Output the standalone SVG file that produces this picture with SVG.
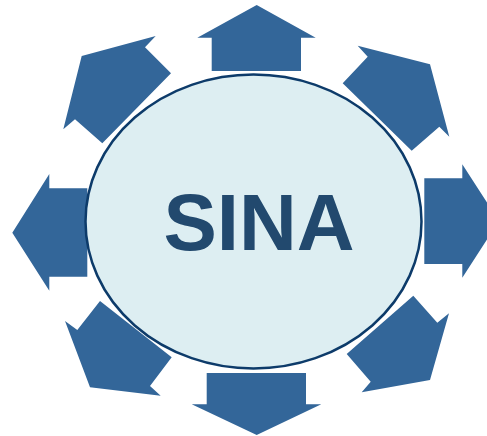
<svg xmlns="http://www.w3.org/2000/svg" width="487" height="436" viewBox="0 0 487 436">
<style>
.arr{fill:#336699;stroke:none}
.hub{fill:#DDEEF2;stroke:#0D3B6A;stroke-width:2.5}
.lbl{font-family:"Liberation Sans",Arial,sans-serif;font-weight:bold;font-size:80px;fill:#22496E;text-anchor:middle}
</style>
<rect width="487" height="436" fill="#ffffff"/>
<g id="connectors">
<polygon id="arrow-n" class="arr" points="256.7,5 315.7,37.7 301,37.7 301,71 211.7,71 211.7,37.7 197.3,37.7"/>
<polygon id="arrow-s" class="arr" points="256.7,435 321.3,404.3 306,404.3 306,373 206.7,373 206.7,404.3 191.7,404.3"/>
<polygon id="arrow-w" class="arr" points="12.3,232.7 49.3,174 49.3,188.3 87.3,188.3 87.3,276.7 49.3,276.7 49.3,290.7"/>
<polygon id="arrow-e" class="arr" points="499,221 462.3,164.3 462.3,178.3 424.3,178.3 424.3,264 462.3,264 462.3,277.7"/>
<polygon id="arrow-ne" class="arr" points="430,64.3 357.7,45.7 367.7,56.7 342.7,83.3 411.7,150.7 439.3,126.7 449.3,136.7"/>
<polygon id="arrow-nw" class="arr" points="81.7,56 155.7,36 145,47.3 171,73.3 102.3,143.3 75,119.3 63.3,129.3"/>
<polygon id="arrow-sw" class="arr" points="90,387.3 65,321 77.3,330 100,301 171.7,357.3 150,386 160.7,395.7"/>
<polygon id="arrow-se" class="arr" points="430,380 449,313.3 437.3,322.7 413.3,295.7 346.7,354 370.7,381.7 361.7,392.3"/>
</g>
<g id="hub">
<ellipse class="hub" cx="253.5" cy="221.5" rx="168" ry="147"/>
<text class="lbl" x="259" y="250">SINA</text>
</g>
</svg>
